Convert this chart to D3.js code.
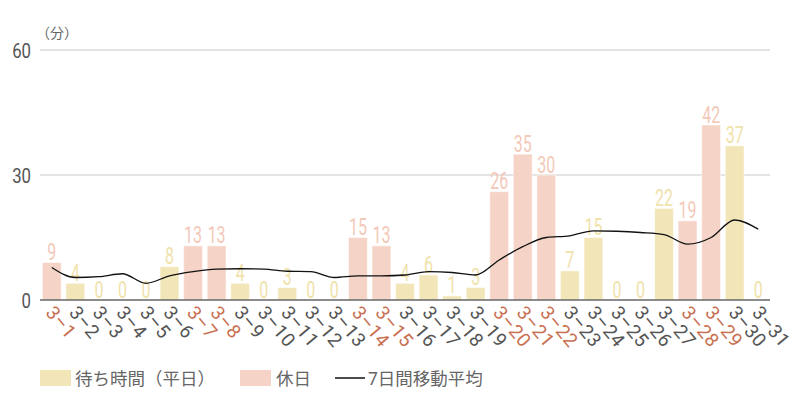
<!DOCTYPE html>
<html>
<head>
<meta charset="utf-8">
<script src="https://cdn.jsdelivr.net/npm/d3@7"></script>
<style>
body { margin: 0; background: #fff; }
text { font-family: Roboto, "Noto Sans CJK JP", sans-serif; }
</style>
</head>
<body>
<svg id="chart" width="800" height="400"></svg>
<script>
var days = ["3-1","3-2","3-3","3-4","3-5","3-6","3-7","3-8","3-9","3-10","3-11","3-12","3-13","3-14","3-15","3-16",
    "3-17","3-18","3-19","3-20","3-21","3-22","3-23","3-24","3-25","3-26","3-27","3-28","3-29","3-30","3-31"];
var waitTimes = [9,4,0,0,0,8,13,13,4,0,3,0,0,15,13,4,6,1,3,26,35,30,7,15,0,0,22,19,42,37,0];
//1 = holiday (pink bar, red tick label)
var holidays = [1,0,0,0,0,0,1,1,0,0,0,0,0,1,1,0,0,0,0,1,1,1,0,0,0,0,0,1,1,0,0];
//7 day moving average
var movingAvg = [7.8,5.4,5.6,6.3,4.0,5.8,6.8,7.4,7.5,7.4,6.9,6.8,5.4,5.8,5.8,6.0,
    6.8,6.6,6.0,9.6,12.8,15.0,15.4,16.6,16.5,16.2,15.7,13.4,15.0,19.2,17.0];
var yTicks = [0,30,60];
var legendLabels = ["待ち時間（平日）","休日","7日間移動平均"];

var weekdayColor = "#f2e6b9", holidayColor = "#f5d4c7";
var weekdayText = "#f0e2aa", holidayText = "#f3c9b9";

var svg = d3.select("#chart");
var x = d3.scaleBand().domain(days).range([40, 770]).paddingInner(0.2).paddingOuter(0.1);
var y = d3.scaleLinear().domain([0, 60]).range([300, 50]);

//grid lines
svg.selectAll("line.grid")
    .data(yTicks.filter(function(d) { return d > 0; }))
    .enter().append("line")
    .attr("x1", 40).attr("x2", 770)
    .attr("y1", function(d) { return y(d); })
    .attr("y2", function(d) { return y(d); })
    .attr("stroke", "#c8c8c8").attr("stroke-width", 1);

//y labels, narrowed with a horizontal scale
svg.selectAll("text.ytick")
    .data(yTicks)
    .enter().append("text")
    .attr("transform", function(d) { return "translate(31," + (y(d) + 8) + ") scale(0.8,1)"; })
    .attr("text-anchor", "end")
    .attr("font-size", 21)
    .attr("fill", "#555")
    .text(function(d) { return d; });

svg.append("text").attr("x", 36).attr("y", 38)
    .attr("font-size", 14).attr("fill", "#666")
    .text("（分）");

//bars
svg.selectAll("rect.bar")
    .data(days)
    .enter().append("rect")
    .attr("x", function(d) { return x(d); })
    .attr("width", x.bandwidth())
    .attr("y", function(d, i) { return y(waitTimes[i]); })
    .attr("height", function(d, i) { return y(0) - y(waitTimes[i]); })
    .attr("fill", function(d, i) { return holidays[i] ? holidayColor : weekdayColor; })
    .attr("stroke", "#fff").attr("stroke-opacity", 0.5);

//value labels (condensed look)
svg.selectAll("text.val")
    .data(days)
    .enter().append("text")
    .attr("transform", function(d, i) {
        return "translate(" + (x(d) + x.bandwidth() / 2) + "," + (y(waitTimes[i]) - 2.5) + ") scale(0.68,1)";
    })
    .attr("text-anchor", "middle")
    .attr("font-size", 23.5)
    .attr("fill", function(d, i) { return holidays[i] ? holidayText : weekdayText; })
    .text(function(d, i) { return waitTimes[i]; });

//baseline
svg.append("line")
    .attr("x1", 40).attr("x2", 770)
    .attr("y1", y(0)).attr("y2", y(0))
    .attr("stroke", "#666").attr("stroke-width", 1.5);

//moving average line
var line = d3.line()
    .x(function(d, i) { return x(days[i]) + x.bandwidth() / 2; })
    .y(function(d) { return y(d); })
    .curve(d3.curveMonotoneX);
svg.append("path")
    .attr("d", line(movingAvg))
    .attr("fill", "none").attr("stroke", "#111").attr("stroke-width", 1.3);

//x tick labels, rotated (dash drawn as en dash so it stays visible)
svg.selectAll("text.xtick")
    .data(days)
    .enter().append("text")
    .attr("transform", function(d) {
        return "translate(" + (x(d) + x.bandwidth() / 2 - 7) + ",313) rotate(50)";
    })
    .attr("font-size", 19)
    .attr("letter-spacing", 0.5)
    .attr("fill", function(d, i) { return holidays[i] ? "#c96f52" : "#555"; })
    .text(function(d) { return d.replace("-", "\u2013"); });

//legend
var lg = svg.append("g");
lg.append("rect").attr("x", 40).attr("y", 370).attr("width", 31).attr("height", 16).attr("fill", weekdayColor);
lg.append("text").attr("x", 75).attr("y", 385).attr("font-size", 17.5).attr("fill", "#666").text(legendLabels[0]);
lg.append("rect").attr("x", 240).attr("y", 370).attr("width", 31).attr("height", 16).attr("fill", holidayColor);
lg.append("text").attr("x", 276).attr("y", 385).attr("font-size", 17.5).attr("fill", "#666").text(legendLabels[1]);
lg.append("line").attr("x1", 335).attr("x2", 365).attr("y1", 378).attr("y2", 378).attr("stroke", "#111").attr("stroke-width", 1.5);
lg.append("text").attr("x", 368).attr("y", 385).attr("font-size", 17.5).attr("fill", "#666").text(legendLabels[2]);
</script>
</body>
</html>
